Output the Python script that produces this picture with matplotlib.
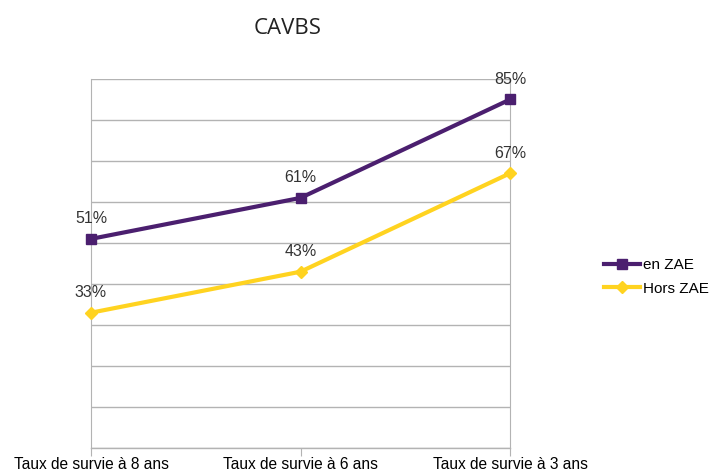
import matplotlib
matplotlib.use("Agg")
import matplotlib.pyplot as plt

categories = ["Taux de survie à 8 ans", "Taux de survie à 6 ans", "Taux de survie à 3 ans"]
en_zae = [51, 61, 85]
hors_zae = [33, 43, 67]
title = "CAVBS"

purple = "#4B1F6F"
yellow = "#FFD320"

fig = plt.figure(figsize=(7.17, 4.72), dpi=100)
ax = fig.add_axes([91/717, 1-448/472, (510-91)/717, (448-79)/472])

x = list(range(len(categories)))
ax.plot(x, en_zae, color=purple, lw=3, marker="s", ms=7.5, label="en ZAE", clip_on=False, zorder=3)
ax.plot(x, hors_zae, color=yellow, lw=3, marker="D", ms=6, label="Hors ZAE", clip_on=False, zorder=3)

for xi, v in zip(x, en_zae):
    ax.annotate(f"{v}%", (xi, v), xytext=(0, 9), textcoords="offset points",
                ha="center", va="bottom", fontsize=11.5, family="Liberation Sans", color="#333333")
for xi, v in zip(x, hors_zae):
    ax.annotate(f"{v}%", (xi, v), xytext=(0, 9), textcoords="offset points",
                ha="center", va="bottom", fontsize=11.5, family="Liberation Sans", color="#333333")

ax.set_xlim(0, 2)
ax.set_ylim(0, 90)
ax.set_yticks(range(0, 91, 10))
ax.set_yticklabels([])
ax.tick_params(axis="y", length=0)
ax.grid(axis="y", color="#b3b3b3", lw=1)
ax.axhline(0, color="#b3b3b3", lw=1, clip_on=False, zorder=1)
ax.set_axisbelow(True)
for s in ["top", "bottom"]:
    ax.spines[s].set_visible(False)
for s in ["left", "right"]:
    ax.spines[s].set_color("#b3b3b3")
ax.set_xticks(x)
ax.set_xticklabels(categories, fontsize=11.2, family="Liberation Sans")
ax.tick_params(axis="x", length=6, color="#b3b3b3", pad=0.5)

fig.text(288/717, 1-28/472, title, ha="center", va="center", fontsize=16, family="Open Sans", color="#222222")

fig.legend(loc="center left", bbox_to_anchor=(590/717, 1-277/472), frameon=False,
           prop={"family": "Liberation Sans", "size": 11}, handlelength=2.4, handletextpad=0.2,
           labelspacing=0.6)

fig.savefig("out.png", dpi=100)
